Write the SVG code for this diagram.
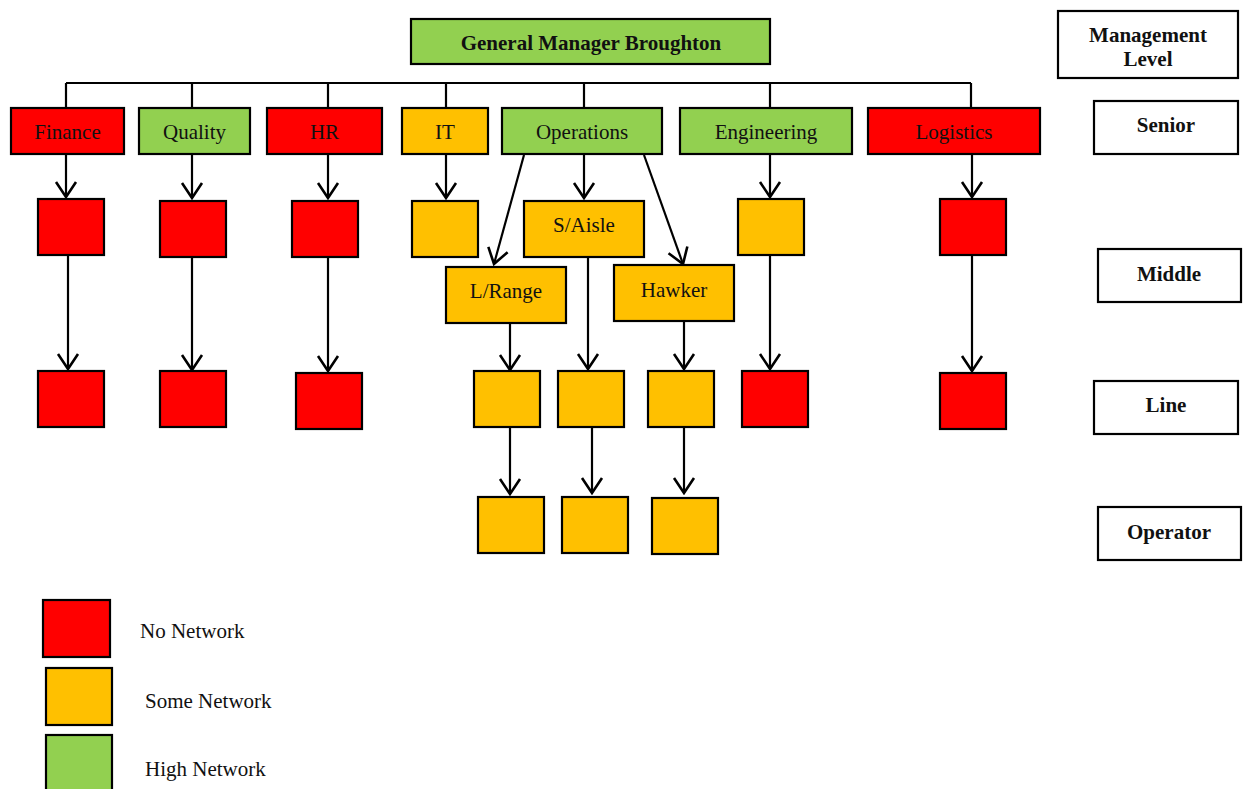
<svg xmlns="http://www.w3.org/2000/svg" width="1244" height="789" viewBox="0 0 1244 789">
  <style>
    .box { stroke: #000; stroke-width: 2.2; }
    .red { fill: #FF0000; }
    .amber { fill: #FFC000; }
    .green { fill: #92D050; }
    .plain { fill: #FFFFFF; }
    .lbl { font-family: "Liberation Serif", "Times New Roman", serif; font-size: 21px; fill: #111; text-anchor: middle; }
    .bold { font-weight: bold; }
    .legend { text-anchor: start; }
    .wire { fill: none; stroke: #000; stroke-width: 2.2; }
    .arrow { fill: none; stroke: #000; stroke-width: 2.2; marker-end: url(#vee); }
  </style>
  <defs>
    <marker id="vee" viewBox="-17 -12 19 24" markerWidth="19" markerHeight="24" refX="0" refY="0" orient="auto" markerUnits="userSpaceOnUse">
      <path d="M-15,-10 L0,0 L-15,10" fill="none" stroke="#000" stroke-width="2.6"/>
    </marker>
  </defs>
  <rect width="1244" height="789" fill="#FFFFFF"/>

  <!-- connectors -->
  <g id="connectors">
    <!-- bus over the senior departments -->
    <path class="wire" d="M66,83 H971"/>
    <path class="wire" d="M66,83 V108 M192,83 V108 M328,83 V108 M446,83 V108 M584,83 V108 M770,83 V108 M971,83 V108"/>
    <!-- senior to middle -->
    <path class="arrow" d="M66,155 V197"/>
    <path class="arrow" d="M192,155 V198"/>
    <path class="arrow" d="M328,155 V198"/>
    <path class="arrow" d="M446,155 V198"/>
    <path class="arrow" d="M584,155 V198"/>
    <path class="arrow" d="M524,155 L494,264"/>
    <path class="arrow" d="M644,155 L683,264"/>
    <path class="arrow" d="M770,155 V197"/>
    <path class="arrow" d="M972,155 V197"/>
    <!-- middle to line -->
    <path class="arrow" d="M68,255 V369"/>
    <path class="arrow" d="M192,257 V370"/>
    <path class="arrow" d="M328,257 V371"/>
    <path class="arrow" d="M510,323 V370"/>
    <path class="arrow" d="M588,257 V369"/>
    <path class="arrow" d="M684,321 V369"/>
    <path class="arrow" d="M770,255 V369"/>
    <path class="arrow" d="M972,255 V371"/>
    <!-- line to operator -->
    <path class="arrow" d="M510,428 V494"/>
    <path class="arrow" d="M592,428 V493"/>
    <path class="arrow" d="M684,428 V493"/>
  </g>

  <!-- top -->
  <g id="gm">
    <rect class="box green" x="411" y="19" width="359" height="45"/>
    <text class="lbl bold" x="591" y="50">General Manager Broughton</text>
  </g>

  <!-- senior departments -->
  <g id="finance">
    <rect class="box red" x="11" y="108" width="113" height="46"/>
    <text class="lbl" x="67.5" y="139">Finance</text>
  </g>
  <g id="quality">
    <rect class="box green" x="139" y="108" width="111" height="46"/>
    <text class="lbl" x="194.5" y="139">Quality</text>
  </g>
  <g id="hr">
    <rect class="box red" x="267" y="108" width="115" height="46"/>
    <text class="lbl" x="324.5" y="139">HR</text>
  </g>
  <g id="it">
    <rect class="box amber" x="402" y="108" width="86" height="46"/>
    <text class="lbl" x="445" y="139">IT</text>
  </g>
  <g id="operations">
    <rect class="box green" x="502" y="108" width="160" height="46"/>
    <text class="lbl" x="582" y="139">Operations</text>
  </g>
  <g id="engineering">
    <rect class="box green" x="680" y="108" width="172" height="46"/>
    <text class="lbl" x="766" y="139">Engineering</text>
  </g>
  <g id="logistics">
    <rect class="box red" x="868" y="108" width="172" height="46"/>
    <text class="lbl" x="954" y="139">Logistics</text>
  </g>

  <!-- middle level -->
  <g id="finance-mid"><rect class="box red" x="38" y="199" width="66" height="56"/></g>
  <g id="quality-mid"><rect class="box red" x="160" y="201" width="66" height="56"/></g>
  <g id="hr-mid"><rect class="box red" x="292" y="201" width="66" height="56"/></g>
  <g id="it-mid"><rect class="box amber" x="412" y="201" width="66" height="56"/></g>
  <g id="s-aisle">
    <rect class="box amber" x="524" y="201" width="120" height="56"/>
    <text class="lbl" x="584" y="232">S/Aisle</text>
  </g>
  <g id="l-range">
    <rect class="box amber" x="446" y="267" width="120" height="56"/>
    <text class="lbl" x="506" y="298">L/Range</text>
  </g>
  <g id="hawker">
    <rect class="box amber" x="614" y="265" width="120" height="56"/>
    <text class="lbl" x="674" y="297">Hawker</text>
  </g>
  <g id="engineering-mid"><rect class="box amber" x="738" y="199" width="66" height="56"/></g>
  <g id="logistics-mid"><rect class="box red" x="940" y="199" width="66" height="56"/></g>

  <!-- line level -->
  <g id="finance-line"><rect class="box red" x="38" y="371" width="66" height="56"/></g>
  <g id="quality-line"><rect class="box red" x="160" y="371" width="66" height="56"/></g>
  <g id="hr-line"><rect class="box red" x="296" y="373" width="66" height="56"/></g>
  <g id="l-range-line"><rect class="box amber" x="474" y="371" width="66" height="56"/></g>
  <g id="s-aisle-line"><rect class="box amber" x="558" y="371" width="66" height="56"/></g>
  <g id="hawker-line"><rect class="box amber" x="648" y="371" width="66" height="56"/></g>
  <g id="engineering-line"><rect class="box red" x="742" y="371" width="66" height="56"/></g>
  <g id="logistics-line"><rect class="box red" x="940" y="373" width="66" height="56"/></g>

  <!-- operator level -->
  <g id="l-range-op"><rect class="box amber" x="478" y="497" width="66" height="56"/></g>
  <g id="s-aisle-op"><rect class="box amber" x="562" y="497" width="66" height="56"/></g>
  <g id="hawker-op"><rect class="box amber" x="652" y="498" width="66" height="56"/></g>

  <!-- management level column -->
  <g id="level-header">
    <rect class="box plain" x="1058" y="11" width="180" height="67"/>
    <text class="lbl bold" x="1148" y="42">Management</text>
    <text class="lbl bold" x="1148" y="66">Level</text>
  </g>
  <g id="level-senior">
    <rect class="box plain" x="1094" y="101" width="144" height="53"/>
    <text class="lbl bold" x="1166" y="132">Senior</text>
  </g>
  <g id="level-middle">
    <rect class="box plain" x="1098" y="249" width="143" height="53"/>
    <text class="lbl bold" x="1169" y="281">Middle</text>
  </g>
  <g id="level-line">
    <rect class="box plain" x="1094" y="381" width="144" height="53"/>
    <text class="lbl bold" x="1166" y="412">Line</text>
  </g>
  <g id="level-operator">
    <rect class="box plain" x="1098" y="507" width="143" height="53"/>
    <text class="lbl bold" x="1169" y="539">Operator</text>
  </g>

  <!-- key -->
  <g id="key-none">
    <rect class="box red" x="43" y="600" width="67" height="57"/>
    <text class="lbl legend" x="140" y="638">No Network</text>
  </g>
  <g id="key-some">
    <rect class="box amber" x="46" y="668" width="66" height="57"/>
    <text class="lbl legend" x="145" y="708">Some Network</text>
  </g>
  <g id="key-high">
    <rect class="box green" x="46" y="735" width="66" height="60"/>
    <text class="lbl legend" x="145" y="776">High Network</text>
  </g>
</svg>
